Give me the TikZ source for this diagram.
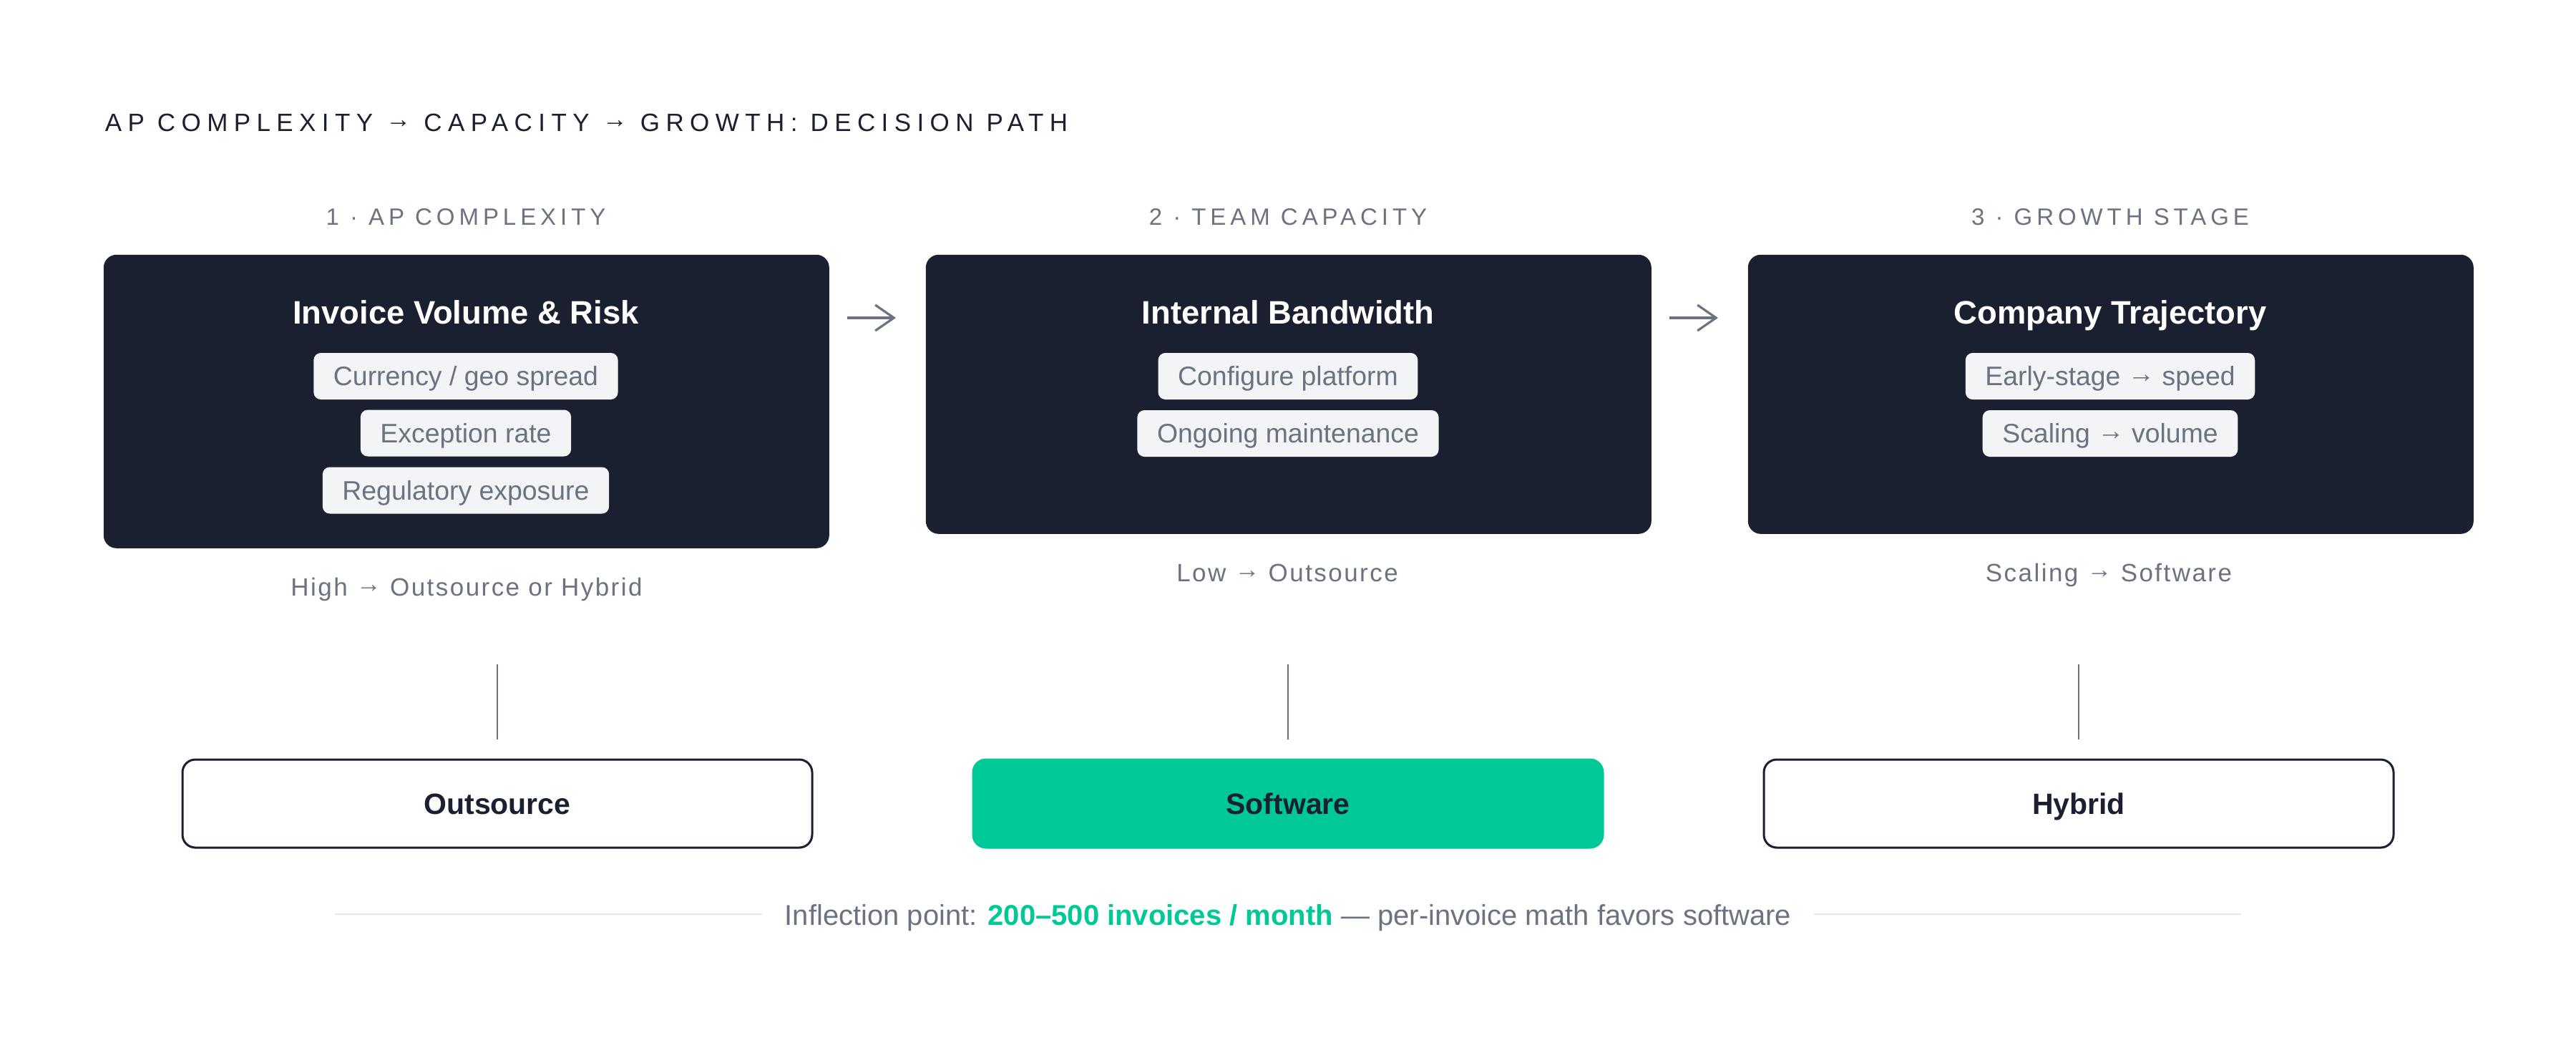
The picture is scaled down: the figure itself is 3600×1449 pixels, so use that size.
\documentclass[tikz,border=0pt]{standalone}
\usepackage{fontspec}
\setmainfont{Liberation Sans}
\usetikzlibrary{arrows.meta,calc}
\definecolor{ink}{RGB}{27,32,48}
\definecolor{muted}{RGB}{107,114,128}
\definecolor{chipbg}{RGB}{243,244,246}
\definecolor{brand}{RGB}{0,200,150}
\definecolor{rulegray}{RGB}{229,231,235}
\newcommand\arrowglyph{\raisebox{0.12em}{→}}
\begin{document}
\begin{tikzpicture}[x=0.25pt,y=-0.25pt,
  darkbox/.style={fill=ink, rounded corners=4.5pt, inner sep=0pt, anchor=north west, minimum width=253.5pt},
  chip/.style={fill=chipbg, text=muted, rounded corners=2.5pt, font=\fontsize{9.35pt}{11pt}\selectfont, text height=6.69pt, text depth=0pt, inner xsep=6.9pt, inner ysep=4.78pt},
  boxtitle/.style={text=white, font=\bfseries\fontsize{11.35pt}{13pt}\selectfont, anchor=base, inner sep=0pt},
  headline/.style={text=ink, font=\fontsize{8.75pt}{10pt}\selectfont\addfontfeatures{LetterSpace=24}, anchor=base west, inner sep=0pt},
  stage/.style={text=muted, font=\fontsize{8.25pt}{10pt}\selectfont\addfontfeatures{LetterSpace=18}, anchor=base, inner sep=0pt},
  outcome/.style={text=muted, font=\fontsize{8.75pt}{10pt}\selectfont\addfontfeatures{LetterSpace=7}, anchor=base, inner sep=0pt},
  choice/.style={draw=ink, line width=0.75pt, rounded corners=4.5pt, fill=white, minimum width=220pt, minimum height=30.75pt, text=ink, font=\bfseries\fontsize{10.25pt}{12pt}\selectfont, text height=7.34pt, text depth=0pt, inner sep=0pt},
  choicehi/.style={choice, draw=brand, fill=brand},
  flow/.style={draw=muted, line width=0.8pt, -{Straight Barb[length=6.5pt,width=9pt]}},
  vline/.style={draw=muted, line width=0.5pt},
  footrule/.style={draw=rulegray, line width=0.6pt},
  footer/.style={text=muted, font=\fontsize{10pt}{12pt}\selectfont, text height=7.16pt, text depth=0pt, inner sep=0pt}
]
\fill[white] (0,0) rectangle (3600,1449);
\useasboundingbox (0,0) rectangle (3600,1449);

% headline
\node[headline] (head) at (146,183) {AP COMPLEXITY \arrowglyph{} CAPACITY \arrowglyph{} GROWTH: DECISION PATH};

% stage labels
\node[stage] (s1) at (651,314) {1 · AP COMPLEXITY};
\node[stage] (s2) at (1800,314) {2 · TEAM CAPACITY};
\node[stage] (s3) at (2949,314) {3 · GROWTH STAGE};

% dark boxes
\node[darkbox, minimum height=102.5pt] (box1) at (144,355) {};
\node[darkbox, minimum height=97.5pt] (box2) at (1293,355) {};
\node[darkbox, minimum height=97.5pt] (box3) at (2442,355) {};

\node[boxtitle] (t1) at (651,452) {Invoice Volume \& Risk};
\node[boxtitle] (t2) at (1800,452) {Internal Bandwidth};
\node[boxtitle] (t3) at (2949,452) {Company Trajectory};

\node[chip] (c11) at (651,525.5) {Currency / geo spread};
\node[chip] (c12) at (651,605) {Exception rate};
\node[chip] (c13) at (651,685) {Regulatory exposure};
\node[chip] (c21) at (1800,525.5) {Configure platform};
\node[chip] (c22) at (1800,605.5) {Ongoing maintenance};
\node[chip] (c31) at (2949,525.5) {Early-stage \arrowglyph{} speed};
\node[chip] (c32) at (2949,605.5) {Scaling \arrowglyph{} volume};

% flow arrows
\coordinate (a1s) at (1184,444);
\coordinate (a1e) at (1252,444);
\coordinate (a2s) at (2333,444);
\coordinate (a2e) at (2401,444);
\draw[flow] (a1s) -- (a1e);
\draw[flow] (a2s) -- (a2e);

% outcomes
\node[outcome] (o1) at (652,832) {High \arrowglyph{} Outsource or Hybrid};
\node[outcome] (o2) at (1799,812) {Low \arrowglyph{} Outsource};
\node[outcome] (o3) at (2947,812) {Scaling \arrowglyph{} Software};

% choices
\node[choice] (out) at (695,1122.5) {Outsource};
\node[choicehi] (soft) at (1800,1122.5) {Software};
\node[choice] (hyb) at (2905,1122.5) {Hybrid};

\coordinate (v1) at (695,928);
\coordinate (v2) at (1800,928);
\coordinate (v3) at (2905,928);
\draw[vline] (v1) -- ($(out.north)+(0,-27)$);
\draw[vline] (v2) -- ($(soft.north)+(0,-27)$);
\draw[vline] (v3) -- ($(hyb.north)+(0,-27)$);

% footer
\node[footer] (foot) at (1800,1278) {Inflection point: \textcolor{brand}{\bfseries 200–500 invoices / month} — per-invoice math favors software};
\coordinate (fl) at (468,1277);
\coordinate (fr) at (3132,1277);
\draw[footrule] (fl) -- ($(foot.west)+(-31,-1)$);
\draw[footrule] ($(foot.east)+(31,-1)$) -- (fr);
\end{tikzpicture}
\end{document}
